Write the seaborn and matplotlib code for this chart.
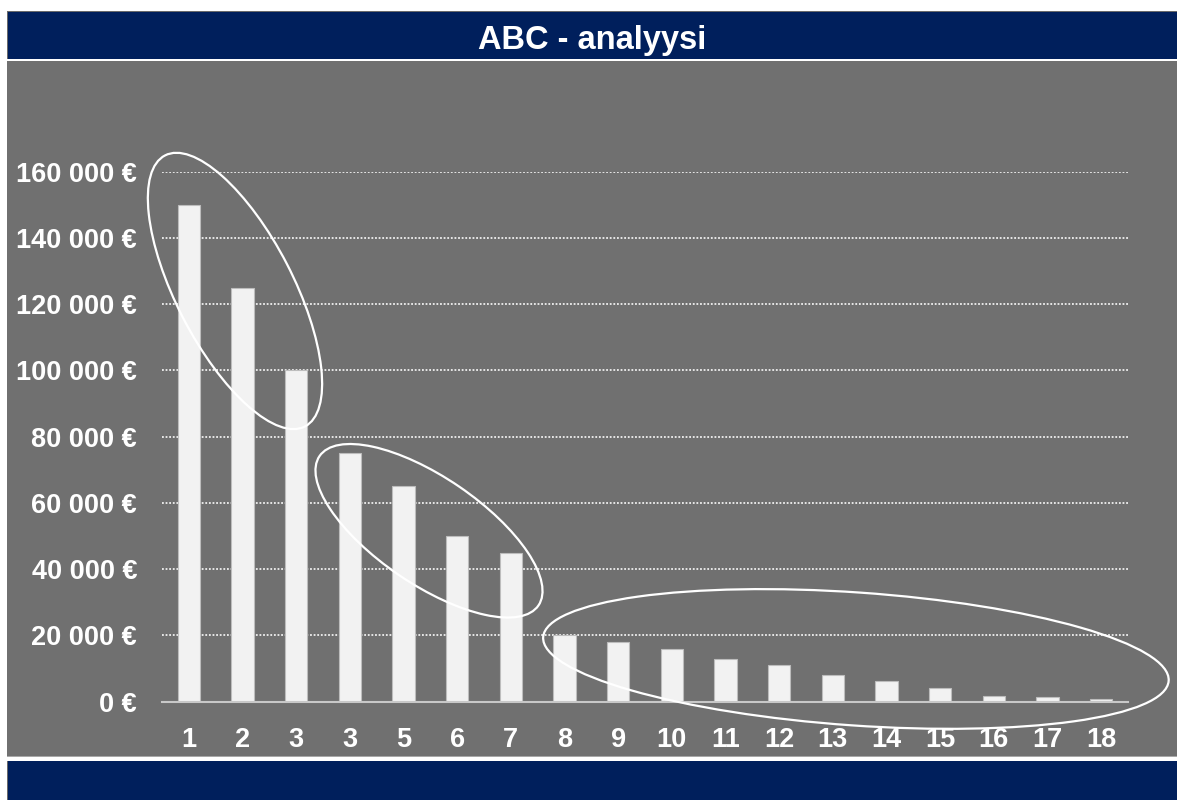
import matplotlib.pyplot as plt
import pandas as pd
import seaborn as sns
from matplotlib.patches import Ellipse, Rectangle
from matplotlib.ticker import FuncFormatter
from matplotlib.transforms import ScaledTranslation

# chart data
title = "ABC - analyysi"
labels = ["1", "2", "3", "3", "5", "6", "7", "8", "9", "10",
          "11", "12", "13", "14", "15", "16", "17", "18"]
sales = [150000, 125000, 100000, 75000, 65000, 50000, 45000, 20000, 18000,
         16000, 13000, 11000, 8000, 6300, 4000, 1800, 1300, 800]
y_ticks = [0, 20000, 40000, 60000, 80000, 100000, 120000, 140000, 160000]

NAVY = "#001f5c"
PANEL = "#707070"
W, H = 1177, 800

sns.set_theme(style="white")
plt.rcParams["font.family"] = ["Liberation Sans", "DejaVu Sans"]
plt.rcParams["font.weight"] = "bold"

fig = plt.figure(figsize=(W / 100, H / 100), dpi=100, facecolor="white")


def px_rect(x0, y0, x1, y1, color):
    # rectangle given in pixel coords (origin top-left)
    fig.add_artist(Rectangle((x0 / W, 1 - y1 / H), (x1 - x0) / W, (y1 - y0) / H,
                             transform=fig.transFigure, facecolor=color,
                             edgecolor="none", zorder=-5))


# header / panel / footer blocks
px_rect(7, 11, W, 59, "#6a6a6a")
px_rect(8, 12, W, 59, NAVY)
px_rect(7, 61, W, 757, PANEL)
px_rect(7, 755.5, W, 757, "#a8a8a8")
px_rect(7, 761, W, H, "#6a6a6a")
px_rect(8, 761, W, H, NAVY)

fig.text(592.5 / W, 1 - 49.5 / H, title, ha="center", va="baseline",
         fontsize=23.5, color="white", fontweight="bold")

df = pd.DataFrame({"pos": range(len(labels)), "sales": sales})

ax = fig.add_axes([162 / W, 1 - 701.7 / H, 966 / W, 530 / H])
ax.patch.set_visible(False)
sns.barplot(data=df, x="pos", y="sales", ax=ax, color="#f2f2f2",
            saturation=1, width=0.41, edgecolor="#bdbdbd", linewidth=0.8)

ax.set_xticks(range(len(labels)))
ax.set_xticklabels(labels)
ax.set_yticks(y_ticks)
ax.yaxis.set_major_formatter(FuncFormatter(lambda v, _: f"{int(v):,} €".replace(",", " ")))
ax.set_xlabel("")
ax.set_ylabel("")
ax.tick_params(axis="both", length=0, labelsize=19.5, labelcolor="white")
ax.tick_params(axis="x", pad=18.5)
ax.tick_params(axis="y", pad=18)

ax.set_axisbelow(True)
ax.yaxis.grid(True, color="#f0f0f0", linestyle=(0, (1, 1)), linewidth=1.3)
ax.xaxis.grid(False)
for side in ["left", "right", "top"]:
    ax.spines[side].set_visible(False)
ax.spines["bottom"].set_color("#c8c8c8")
ax.spines["bottom"].set_linewidth(1.5)
ax.spines["bottom"].set_zorder(3)

ax.set_xlim(-0.5, len(labels) - 0.5)
ax.set_ylim(0, 160000)

# A / B / C group outlines: centre in data coords, size in inches
groups = [
    (0.86, 124000, 3.05, 1.17, -62.7),
    (4.475, 51600, 2.65, 1.07, -34.3),
    (12.43, 12900, 6.27, 1.33, -4.0),
]
for cx, cy, w, h, ang in groups:
    tr = fig.dpi_scale_trans + ScaledTranslation(cx, cy, ax.transData)
    ax.add_artist(Ellipse((0, 0), w, h, angle=ang, transform=tr, fill=False,
                          edgecolor="white", linewidth=1.6, clip_on=False, zorder=5))

fig.savefig("out.png", dpi=100, facecolor="white")
